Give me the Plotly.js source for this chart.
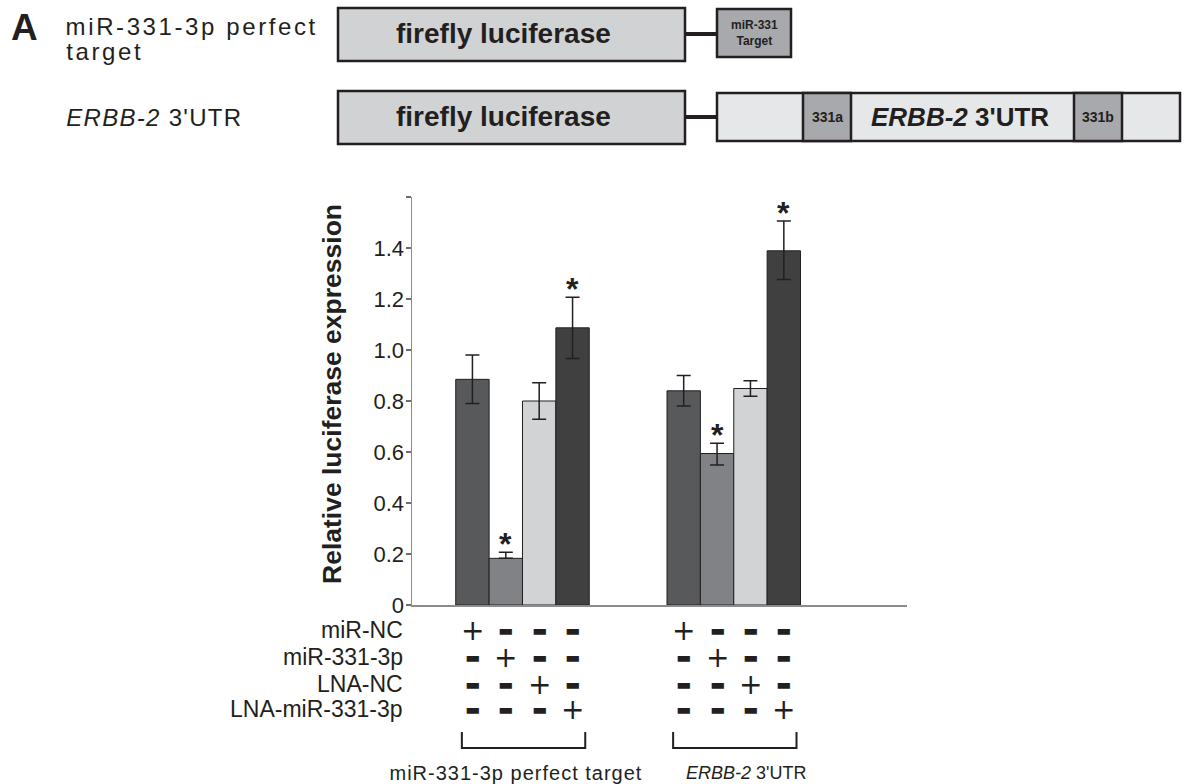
<!DOCTYPE html>
<html>
<head>
<meta charset="utf-8">
<script src="https://cdn.plot.ly/plotly-3.0.1.min.js"></script>
<style>
  html, body { margin: 0; padding: 0; background: #ffffff; }
  #chart { width: 1194px; height: 784px; }
</style>
</head>
<body>
<div id="chart"></div>
<script>
// ---------------- data ----------------
const constructs = ["miR-331-3p perfect target", "ERBB-2 3'UTR"];
const treatments = ["miR-NC", "miR-331-3p", "LNA-NC", "LNA-miR-331-3p"];

const valMiRNC   = [0.885, 0.840];
const valMiR331  = [0.183, 0.594];
const valLNANC   = [0.800, 0.849];
const valLNA331  = [1.087, 1.389];

const errUpMiRNC  = [0.095, 0.060];
const errUpMiR331 = [0.024, 0.040];
const errUpLNANC  = [0.072, 0.030];
const errUpLNA331 = [0.120, 0.117];

const errDnMiRNC  = [0.095, 0.060];
const errDnMiR331 = [0.000, 0.045];
const errDnLNANC  = [0.072, 0.030];
const errDnLNA331 = [0.120, 0.113];

const sigMiRNC  = [false, false];
const sigMiR331 = [true, true];
const sigLNANC  = [false, false];
const sigLNA331 = [true, true];

const yTickVals  = [0, 0.2, 0.4, 0.6, 0.8, 1.0, 1.2, 1.4, 1.6];
const yTickText  = ["0", "0.2", "0.4", "0.6", "0.8", "1.0", "1.2", "1.4", ""];

const constructLabelsHtml = ["miR-331-3p perfect target", "<i>ERBB-2</i> 3'UTR"];

// ---------------- styling ----------------
const barColors = ["#58595b", "#808285", "#d1d3d4", "#404041"];
const ink = "#231f20";
const FONT = "Liberation Sans, Arial, sans-serif";
const SYMFONT = "DejaVu Sans, Liberation Sans, sans-serif";

const values = [valMiRNC, valMiR331, valLNANC, valLNA331];
const errUp = [errUpMiRNC, errUpMiR331, errUpLNANC, errUpLNA331];
const errDn = [errDnMiRNC, errDnMiR331, errDnLNANC, errDnLNA331];
const sig = [sigMiRNC, sigMiR331, sigLNANC, sigLNA331];

const BARGAP = 0.368;
const groupWidth = 1 - BARGAP;
const barW = groupWidth / treatments.length;
function barCenter(g, i) { return g - groupWidth / 2 + barW * (i + 0.5); }

// pixel -> paper helpers for decorative layout (plot area 412..907 x, 197..605 y)
const L = 412, R = 907, T = 197, B = 605;
const PX = x => (x - L) / (R - L);
const PY = y => (B - y) / (B - T);

const traces = treatments.map((t, i) => ({
  type: "bar",
  name: t,
  x: constructs,
  y: values[i],
  marker: { color: barColors[i], line: { color: ink, width: 1 } },
  error_y: {
    type: "data", symmetric: false,
    array: errUp[i], arrayminus: errDn[i],
    color: ink, thickness: 1.5, width: 7
  },
  hoverinfo: "skip"
}));

const annotations = [];
const shapes = [];
const spacing = {}; // annotation index -> letter spacing px

// significance stars
treatments.forEach((t, i) => {
  constructs.forEach((c, g) => {
    if (sig[i][g]) {
      annotations.push({
        xref: "x", yref: "y", x: barCenter(g, i), y: values[i][g] + errUp[i][g],
        text: "<b>*</b>", showarrow: false, xanchor: "center", yanchor: "bottom",
        yshift: -12, font: { family: FONT, size: 32, color: ink }
      });
    }
  });
});

// treatment table
const rowY = [630, 657, 684, 709];
treatments.forEach((t, r) => {
  annotations.push({
    xref: "paper", yref: "paper", x: PX(405), y: PY(rowY[r]),
    text: t, showarrow: false, xanchor: "right", yanchor: "middle",
    font: { family: FONT, size: 23, color: ink }
  });
  constructs.forEach((c, g) => {
    treatments.forEach((t2, i) => {
      const plus = (i === r);
      annotations.push({
        xref: "x", yref: "paper", x: barCenter(g, i), y: PY(rowY[r]),
        text: plus ? "+" : "\u25AC", showarrow: false,
        xanchor: "center", yanchor: "middle",
        yshift: plus ? 0 : 0,
        font: { family: SYMFONT, size: plus ? 28 : 16, color: ink }
      });
    });
  });
});

// brackets + group labels
constructs.forEach((c, g) => {
  const x0 = barCenter(g, 0) - 0.05, x1 = barCenter(g, 3) + 0.06;
  shapes.push({
    type: "path", xref: "x", yref: "paper",
    path: `M ${x0} ${PY(732)} L ${x0} ${PY(748)} L ${x1} ${PY(748)} L ${x1} ${PY(732)}`,
    line: { color: ink, width: 2 }
  });
  if (g === 0) spacing[annotations.length] = 1.0;
  annotations.push({
    xref: "x", yref: "paper", x: g, y: PY(773),
    xshift: g === 0 ? -6 : 12,
    text: constructLabelsHtml[g], showarrow: false, xanchor: "center", yanchor: "middle",
    font: { family: FONT, size: g === 0 ? 20 : 18, color: ink }
  });
});

// y-axis title
annotations.push({
  xref: "paper", yref: "paper", x: PX(332), y: PY(394),
  text: "<b>Relative luciferase expression</b>", textangle: -90, showarrow: false,
  xanchor: "center", yanchor: "middle",
  font: { family: FONT, size: 26.5, color: ink }
});

// ---------------- construct diagram (top) ----------------
function rect(x0, y0, x1, y1, fill) {
  shapes.push({ type: "rect", xref: "paper", yref: "paper",
    x0: PX(x0), x1: PX(x1), y0: PY(y1), y1: PY(y0),
    fillcolor: fill, line: { color: ink, width: 2.5 } });
}
function hline(x0, x1, y) {
  shapes.push({ type: "line", xref: "paper", yref: "paper",
    x0: PX(x0), x1: PX(x1), y0: PY(y), y1: PY(y), line: { color: ink, width: 4 } });
}
function label(x, y, text, size, anchor, ls, nchars) {
  let xshift = 0;
  if (ls) {
    spacing[annotations.length] = ls;
    if (anchor === "left") xshift = nchars * ls / 2;
  }
  annotations.push({ xref: "paper", yref: "paper", x: PX(x), y: PY(y), text: text,
    showarrow: false, xanchor: anchor || "center", yanchor: "middle", xshift: xshift,
    font: { family: FONT, size: size, color: ink } });
}

hline(685, 718, 34);
rect(338, 8, 685, 61, "#d1d2d4");
rect(717, 9, 791, 57, "#a7a9ac");
hline(685, 718, 117);
rect(338, 91, 685, 144, "#d1d2d4");
rect(717, 93, 1180, 141, "#e6e7e8");
rect(803, 93, 851, 141, "#a7a9ac");
rect(1074, 93, 1122, 141, "#a7a9ac");

label(503, 33, "<b>firefly luciferase</b>", 28);
label(503, 116, "<b>firefly luciferase</b>", 28);
label(754, 33, "<b>miR-331<br>Target</b>", 12);
label(827, 117, "<b>331a</b>", 14);
label(1098, 117, "<b>331b</b>", 14);
label(960, 117, "<b><i>ERBB-2</i> 3'UTR</b>", 26);

label(9, 28, "<b>A</b>", 37, "left");
label(64, 27, "miR-331-3p perfect", 24, "left", 2.6, 18);
label(64, 52, "target", 24, "left", 2.6, 6);
label(64, 117, "<i>ERBB-2</i> 3'UTR", 24, "left", 1.3, 12);

const layout = {
  width: 1194, height: 784,
  margin: { l: L, r: 1194 - R, t: T, b: 784 - B, pad: 0 },
  paper_bgcolor: "#ffffff", plot_bgcolor: "#ffffff",
  showlegend: false,
  barmode: "group", bargap: BARGAP, bargroupgap: 0,
  xaxis: {
    type: "category", range: [-0.523, 1.82],
    showline: true, linecolor: "#8c8c8c", linewidth: 1.5,
    showticklabels: false, ticks: "", showgrid: false, zeroline: false, fixedrange: true
  },
  yaxis: {
    range: [0, 1.6], tickvals: yTickVals, ticktext: yTickText,
    showline: true, linecolor: "#8c8c8c", linewidth: 1.5,
    ticks: "outside", ticklen: 5, tickwidth: 1.5, tickcolor: "#6d6e71",
    ticklabelstandoff: -3,
    showgrid: false, zeroline: false, fixedrange: true,
    tickfont: { family: FONT, size: 22, color: ink }
  },
  font: { family: FONT, color: ink },
  annotations: annotations,
  shapes: shapes
};

Plotly.newPlot("chart", traces, layout, { staticPlot: true, displayModeBar: false }).then(() => {
  const anns = document.querySelectorAll(".annotation");
  anns.forEach(a => {
    const idx = parseInt(a.getAttribute("data-index"), 10);
    if (spacing[idx] !== undefined) {
      const txt = a.querySelector(".annotation-text");
      if (txt) txt.style.letterSpacing = spacing[idx] + "px";
    }
  });
});
</script>
</body>
</html>
